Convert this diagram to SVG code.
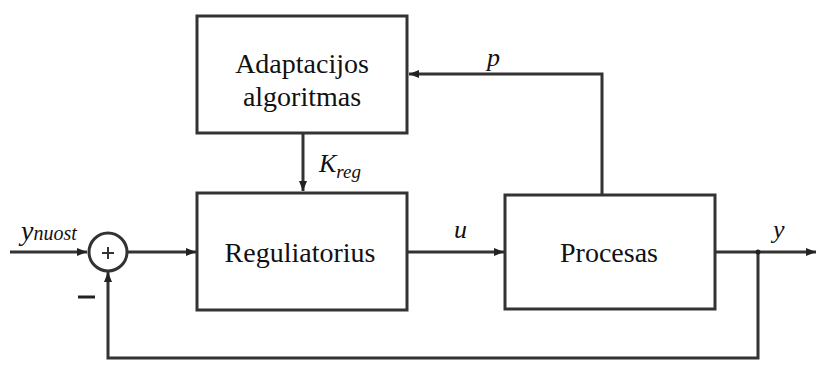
<svg xmlns="http://www.w3.org/2000/svg" width="818" height="365" viewBox="0 0 818 365">
<defs>
<marker id="ah" markerWidth="10" markerHeight="8" refX="10" refY="4" orient="auto" markerUnits="userSpaceOnUse">
<path d="M0,0 L10,4 L0,8 z" fill="#222"/>
</marker>
<style>
.box{fill:#fff;stroke:#333;stroke-width:3}
.ln{fill:none;stroke:#333;stroke-width:3}
text{font-family:'Liberation Serif','Times New Roman','DejaVu Serif',serif;fill:#111}
.t{font-size:28px;text-anchor:middle}
.i{font-style:italic}
</style>
</defs>
<g id="connectors">
<path class="ln" d="M10,252 L87,252" marker-end="url(#ah)"/>
<path class="ln" d="M127,252 L196,252" marker-end="url(#ah)"/>
<path class="ln" d="M303,134 L303,191" marker-end="url(#ah)"/>
<path class="ln" d="M407,252 L504,252" marker-end="url(#ah)"/>
<path class="ln" d="M602,194 L602,74 L409,74" marker-end="url(#ah)"/>
<path class="ln" d="M715,252 L816,252" marker-end="url(#ah)"/>
<path class="ln" d="M758,252 L758,358 L108,358 L108,272" marker-end="url(#ah)"/>
<circle cx="758" cy="252" r="2.5" fill="#222"/>
</g>
<g id="sum">
<circle cx="108" cy="252" r="19" fill="#fff" stroke="#333" stroke-width="3"/>
<path d="M102,253 h12 M108,247 v12" stroke="#333" stroke-width="2"/>
</g>
<g id="adapt">
<rect class="box" x="197" y="16" width="210" height="117"/>
<text class="t" x="302" y="73">Adaptacijos</text>
<text class="t" x="302" y="106">algoritmas</text>
</g>
<g id="reg">
<rect class="box" x="197" y="193" width="210" height="117"/>
<text class="t" x="300" y="262">Reguliatorius</text>
</g>
<g id="proc">
<rect class="box" x="505" y="195" width="210" height="114"/>
<text class="t" x="609" y="262">Procesas</text>
</g>
<g id="labels">
<text class="i" x="21" y="240" font-size="28">y<tspan font-size="20">nuost</tspan></text>
<path d="M78,297 h17" stroke="#222" stroke-width="3"/>
<text class="i" x="319" y="172" font-size="26">K<tspan font-size="19" dy="6">reg</tspan></text>
<text class="i" x="454" y="238" font-size="26">u</text>
<text class="i" x="487" y="66" font-size="26">p</text>
<text class="i" x="773" y="238" font-size="26">y</text>
</g>
</svg>
